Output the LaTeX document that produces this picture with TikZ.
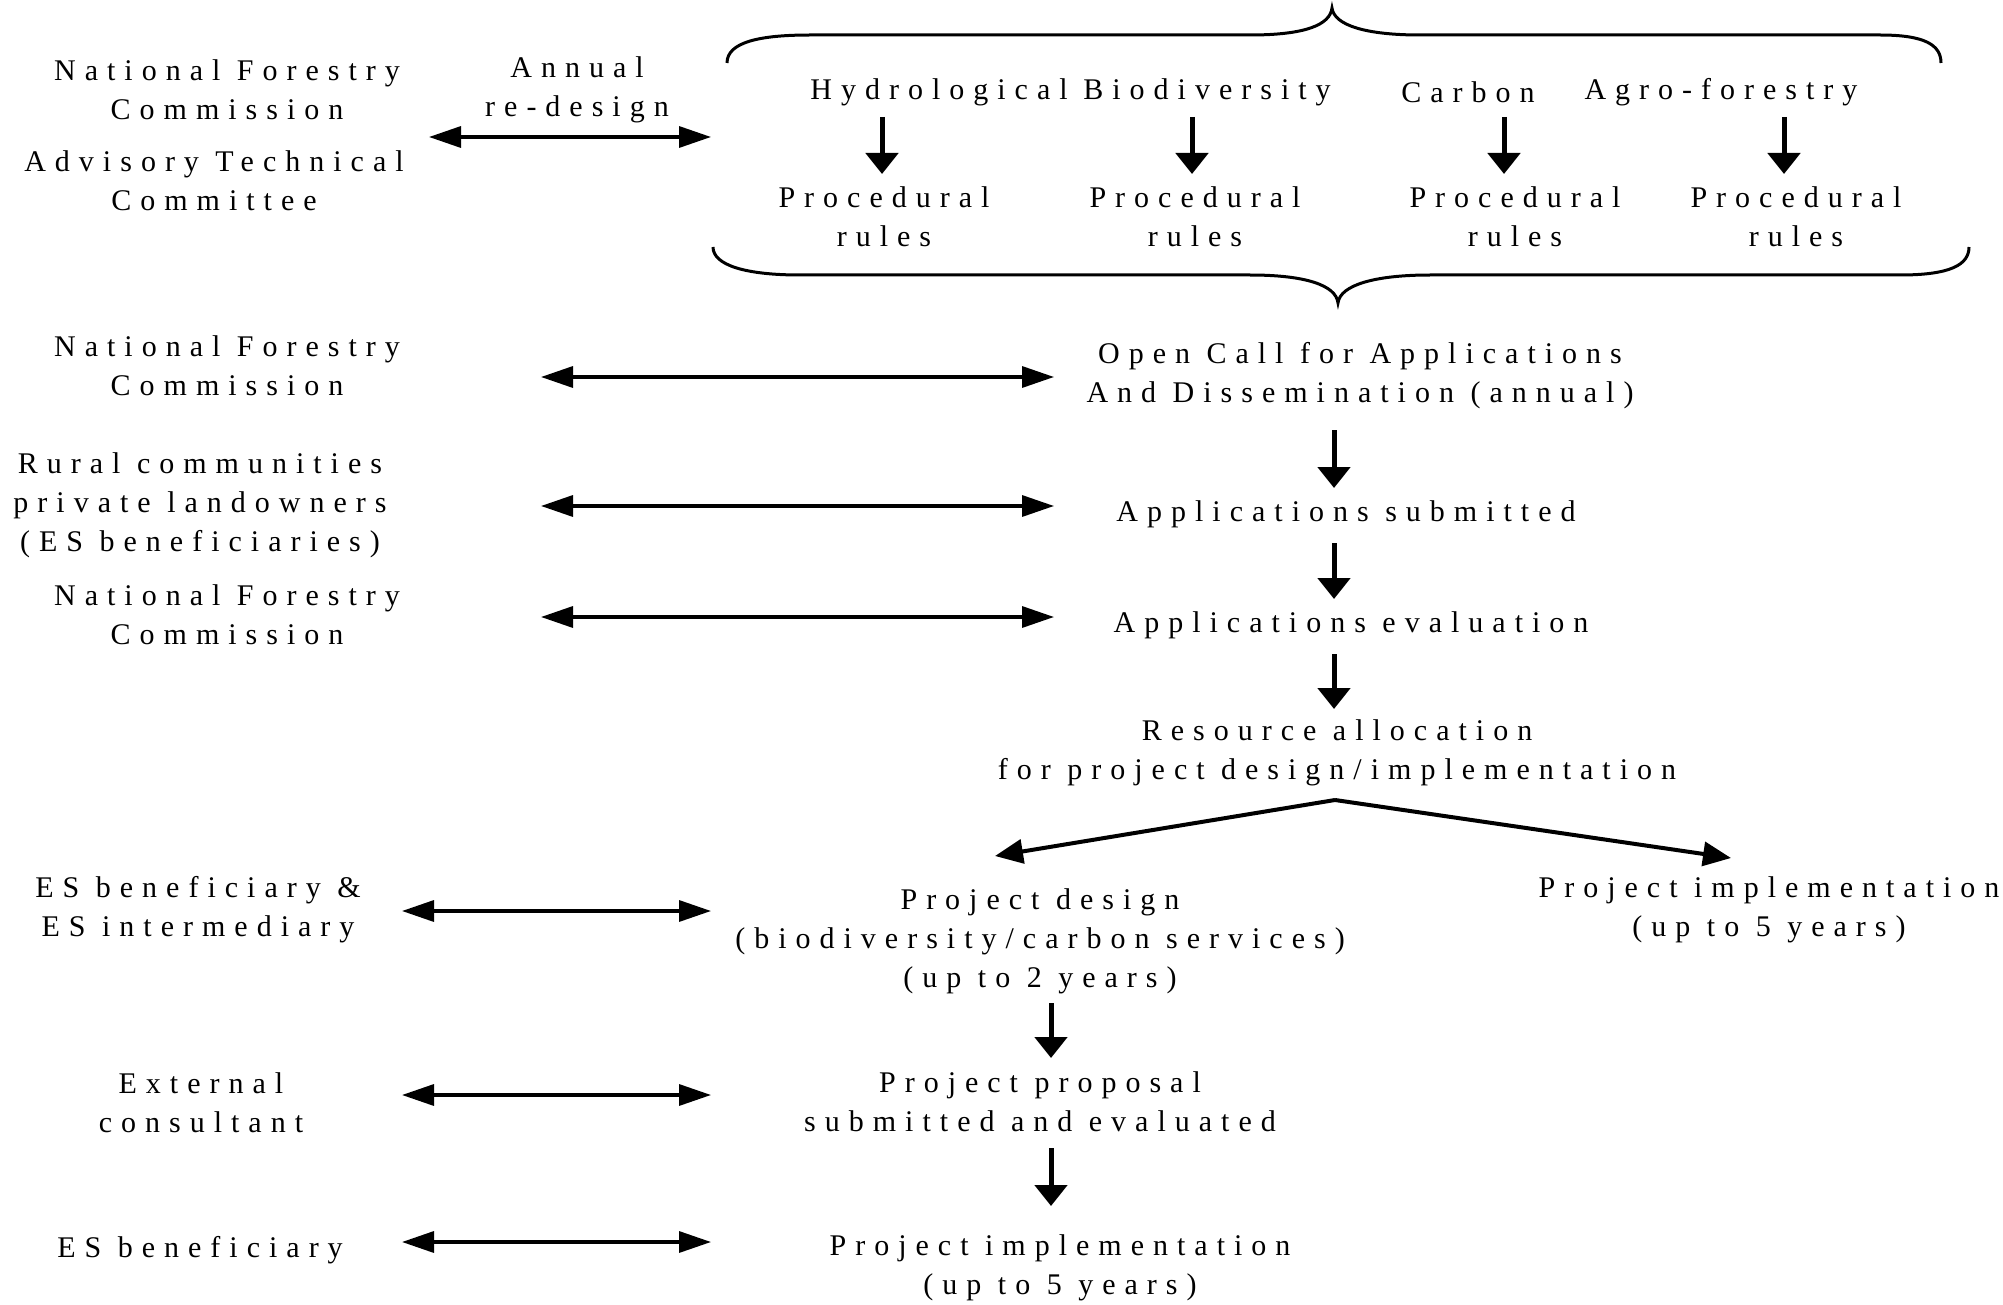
\documentclass[tikz,border=0pt]{standalone}
\usepackage{fontspec}
\setmainfont{Liberation Serif}[LetterSpace=30]
\usetikzlibrary{arrows.meta}
\tikzset{
  txt/.style={align=center, inner sep=0pt, font=\fontsize{15}{19.5}\selectfont},
  harrow/.style={line width=1.7pt, {Triangle[length=16pt,width=10.5pt]}-{Triangle[length=16pt,width=10.5pt]}},
  varrow/.style={line width=2.5pt, -{Triangle[length=10.5pt,width=16pt]}},
  sarrow/.style={line width=2pt, -{Triangle[length=14pt,width=12pt]}},
  brace/.style={line width=1.5pt}
}
\begin{document}
\begin{tikzpicture}[x=0.5pt,y=-0.5pt]
\useasboundingbox (0,0) rectangle (2003,1305);

% ---- top block ----
\node[txt] (nfc1) at (227,90) {National Forestry\\Commission};
\node[txt] (atc) at (214,181) {Advisory Technical\\Committee};
\node[txt] (annual) at (577,90) {Annual\\re-design};
\coordinate (a1l) at (429,137);
\coordinate (a1r) at (711,137);
\draw[harrow] (a1l) -- (a1r);

\draw[brace] (727,63) .. controls (727,42) and (760,35) .. (810,35) -- (1250,35)
  .. controls (1305,35) and (1330,25) .. (1332,8)
  .. controls (1334,25) and (1365,35) .. (1420,35) -- (1880,35)
  .. controls (1925,35) and (1941,45) .. (1941,63);
\draw[brace] (713,247) .. controls (713,265) and (745,275) .. (800,275) -- (1250,275)
  .. controls (1305,275) and (1336,285) .. (1338,303)
  .. controls (1340,285) and (1375,275) .. (1430,275) -- (1900,275)
  .. controls (1950,275) and (1969,265) .. (1969,247);

\node[txt] (hyd) at (939,92) {Hydrological};
\node[txt] (bio) at (1207,92) {Biodiversity};
\node[txt] (carb) at (1468,92) {Carbon};
\node[txt] (agro) at (1721,92) {Agro-forestry};
\node[txt] (pr1) at (884,217) {Procedural\\rules};
\node[txt] (pr2) at (1195,217) {Procedural\\rules};
\node[txt] (pr3) at (1515,217) {Procedural\\rules};
\node[txt] (pr4) at (1796,217) {Procedural\\rules};
\coordinate (t1a) at (882,117); \coordinate (t1b) at (882,174);
\coordinate (t2a) at (1192,117); \coordinate (t2b) at (1192,174);
\coordinate (t3a) at (1504,117); \coordinate (t3b) at (1504,174);
\coordinate (t4a) at (1784,117); \coordinate (t4b) at (1784,174);
\draw[varrow] (t1a) -- (t1b);
\draw[varrow] (t2a) -- (t2b);
\draw[varrow] (t3a) -- (t3b);
\draw[varrow] (t4a) -- (t4b);

% ---- middle block ----
\node[txt] (nfc2) at (227,366) {National Forestry\\Commission};
\node[txt] (rural) at (200,505) {Rural communities\\private landowners\\(ES beneficiaries)};
\node[txt] (nfc3) at (227,615) {National Forestry\\Commission};

\node[txt] (open) at (1360,376) {Open Call for Applications\\And Dissemination (annual)};
\node[txt] (subm) at (1346,514) {Applications submitted};
\node[txt] (eval) at (1351,625) {Applications evaluation};
\node[txt] (res) at (1337,753) {Resource allocation\\for project design/implementation};

\coordinate (h2l) at (541,377); \coordinate (h2r) at (1054,377);
\coordinate (h3l) at (541,506); \coordinate (h3r) at (1054,506);
\coordinate (h4l) at (541,617); \coordinate (h4r) at (1054,617);
\draw[harrow] (h2l) -- (h2r);
\draw[harrow] (h3l) -- (h3r);
\draw[harrow] (h4l) -- (h4r);

\coordinate (v1a) at (1334,430); \coordinate (v1b) at (1334,488);
\coordinate (v2a) at (1334,543); \coordinate (v2b) at (1334,599);
\coordinate (v3a) at (1334,654); \coordinate (v3b) at (1334,709);
\draw[varrow] (v1a) -- (v1b);
\draw[varrow] (v2a) -- (v2b);
\draw[varrow] (v3a) -- (v3b);

\coordinate (apex) at (1335,800);
\coordinate (sl) at (995,856);
\coordinate (sr) at (1731,858);
\draw[sarrow] (apex) -- (sl);
\draw[sarrow] (apex) -- (sr);

% ---- bottom block ----
\node[txt] (pdes) at (1040,941) {Project design\\(biodiversity/carbon services)\\(up to 2 years)};
\node[txt] (pimpr) at (1769,910) {Project implementation\\(up to 5 years)};
\node[txt] (esi) at (198,910) {ES beneficiary \&\\ES intermediary};
\node[txt] (ext) at (201,1103) {External\\consultant};
\node[txt] (prop) at (1040,1102) {Project proposal\\submitted and evaluated};
\node[txt] (esb) at (200,1250) {ES beneficiary};
\node[txt] (pimp) at (1060,1268) {Project implementation\\(up to 5 years)};

\coordinate (h5l) at (402,911); \coordinate (h5r) at (711,911);
\coordinate (h6l) at (402,1095); \coordinate (h6r) at (711,1095);
\coordinate (h7l) at (402,1242); \coordinate (h7r) at (711,1242);
\draw[harrow] (h5l) -- (h5r);
\draw[harrow] (h6l) -- (h6r);
\draw[harrow] (h7l) -- (h7r);

\coordinate (v4a) at (1051,1003); \coordinate (v4b) at (1051,1058);
\coordinate (v5a) at (1051,1148); \coordinate (v5b) at (1051,1206);
\draw[varrow] (v4a) -- (v4b);
\draw[varrow] (v5a) -- (v5b);
\end{tikzpicture}
\end{document}
